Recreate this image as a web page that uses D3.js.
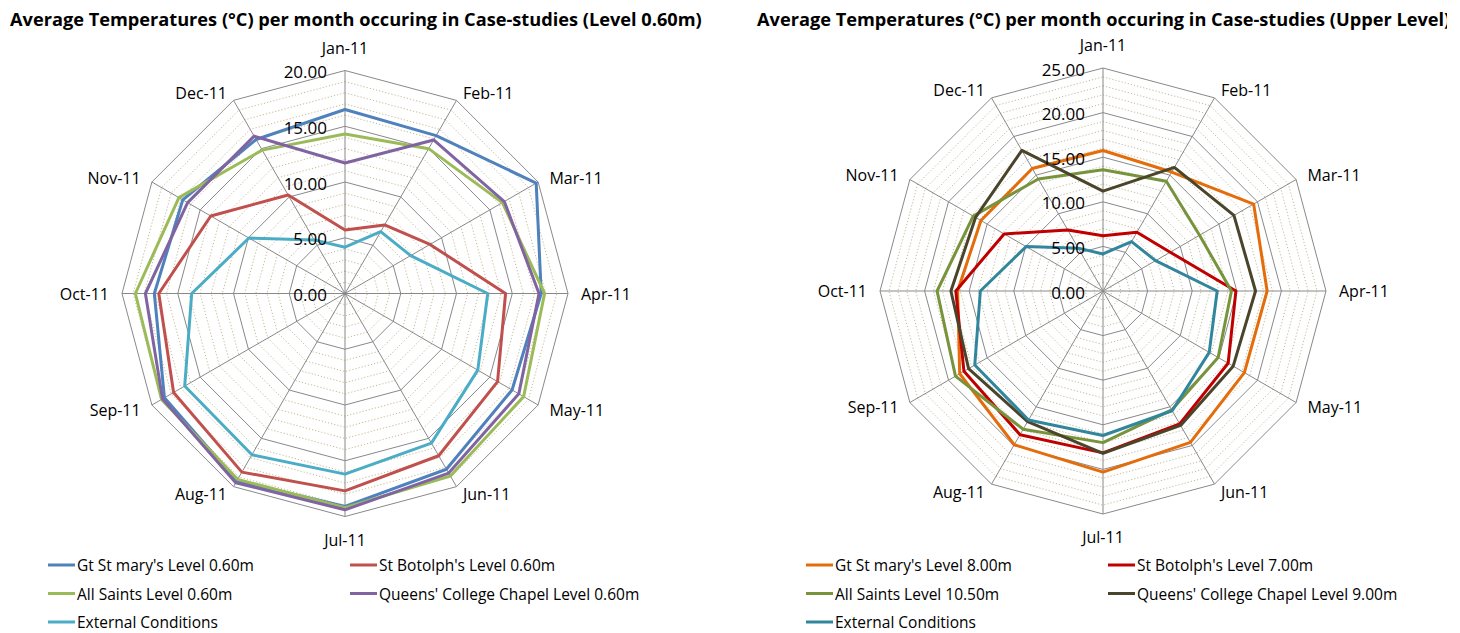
<!DOCTYPE html>
<html>
<head>
<meta charset="utf-8">
<script src="https://cdn.jsdelivr.net/npm/d3@7"></script>
<style>
  body { margin: 0; background: #fff; }
  text { font-family: 'Open Sans', sans-serif; fill: #000; }
</style>
</head>
<body>
<svg id="chart" width="1460" height="633"></svg>
<script>
const months = ['Jan-11', 'Feb-11', 'Mar-11', 'Apr-11', 'May-11', 'Jun-11',
  'Jul-11', 'Aug-11', 'Sep-11', 'Oct-11', 'Nov-11', 'Dec-11'];

// level 0.60m, deg C per month
const gtStMaryLow = [16.5, 16.35, 19.8, 17.6, 17.3, 18.2, 19.1, 19.4, 18.7, 17.1, 16.8, 15.95];
const stBotolphLow = [5.7, 7.1, 8.8, 14.4, 15.8, 16.8, 17.7, 18.5, 17.75, 16.7, 13.9, 10.2];
const allSaintsLow = [14.3, 15.0, 16.3, 17.9, 18.5, 18.9, 19.2, 19.25, 19.0, 18.8, 17.2, 14.85];
const queensLow = [11.7, 15.9, 16.5, 17.4, 18.0, 18.6, 19.4, 19.6, 18.9, 17.9, 16.3, 16.3];

// upper levels
const gtStMaryUp = [15.75, 15.4, 19.5, 18.4, 18.3, 19.6, 20.3, 19.9, 18.55, 16.3, 15.8, 15.85];
const stBotolphUp = [6.2, 7.6, 8.7, 14.9, 16.2, 17.2, 18.15, 18.6, 18.0, 16.5, 12.8, 7.9];
const allSaintsUp = [13.6, 14.2, 12.5, 14.4, 14.9, 15.4, 17.0, 17.9, 19.1, 18.6, 16.8, 14.5];
const queensUp = [11.2, 16.0, 16.95, 17.1, 16.85, 17.4, 18.2, 16.9, 17.4, 17.05, 16.5, 18.2];

// same outside data in both charts
const external = [4.15, 6.4, 6.8, 12.8, 13.75, 15.5, 16.2, 16.7, 16.6, 13.75, 9.95, 5.55];

const lowNames = ["Gt St mary's Level 0.60m", "St Botolph's Level 0.60m", 'All Saints Level 0.60m',
  "Queens' College Chapel Level 0.60m", 'External Conditions'];
const upNames = ["Gt St mary's Level 8.00m", "St Botolph's Level 7.00m", 'All Saints Level 10.50m',
  "Queens' College Chapel Level 9.00m", 'External Conditions'];

const lowColors = ['#4F81BD', '#C0504D', '#9BBB59', '#8064A2', '#4BACC6'];
const upColors = ['#E46C0A', '#C00000', '#77933C', '#4A452A', '#31859C'];

const svg = d3.select('#chart');

svg.append('clipPath').attr('id', 'rightClip')
  .append('rect').attr('x', 730).attr('y', 0).attr('width', 717).attr('height', 633);

function drawRadar(cfg) {
  const outer = svg.append('g');
  if (cfg.clip) outer.attr('clip-path', 'url(#rightClip)');

  outer.append('text')
    .attr('x', cfg.titleX)
    .attr('y', 26)
    .style('font-size', '18.2px')
    .style('font-weight', 'bold')
    .text(cfg.title);

  const g = outer.append('g').attr('transform', `translate(${cfg.cx},${cfg.cy})`);
  const r = d3.scaleLinear().domain([0, cfg.max]).range([0, 223]);
  const angle = d3.scaleLinear().domain([0, months.length]).range([0, 2 * Math.PI]);

  const ring = d3.lineRadial()
    .angle((d, i) => angle(i))
    .radius(d => r(d))
    .curve(d3.curveLinearClosed);

  // minor rings first, major on top
  const levels = d3.range(1, cfg.max + 1);
  g.selectAll('.minor')
    .data(levels.filter(v => v % 5 !== 0))
    .join('path')
    .attr('d', v => ring(months.map(() => v)))
    .attr('fill', 'none')
    .attr('stroke', '#C4BA94')
    .attr('stroke-width', 1)
    .attr('stroke-dasharray', '1.2,2');

  g.selectAll('.major')
    .data(levels.filter(v => v % 5 === 0))
    .join('path')
    .attr('d', v => ring(months.map(() => v)))
    .attr('fill', 'none')
    .attr('stroke', '#898989')
    .attr('stroke-width', 1);

  g.selectAll('.spoke')
    .data(months)
    .join('line')
    .attr('x1', 0).attr('y1', 0)
    .attr('x2', (d, i) => r(cfg.max) * Math.sin(angle(i)))
    .attr('y2', (d, i) => -r(cfg.max) * Math.cos(angle(i)))
    .attr('stroke', '#898989')
    .attr('stroke-width', 1);

  // series
  cfg.series.forEach((s, k) => {
    g.append('path')
      .attr('d', ring(s))
      .attr('fill', 'none')
      .attr('stroke', cfg.colors[k])
      .attr('stroke-width', 3)
      .attr('stroke-linejoin', 'round');
  });

  // value labels on the Jan spoke
  g.selectAll('.tick')
    .data(d3.range(0, cfg.max + 1, 5))
    .join('text')
    .attr('x', -18)
    .attr('y', v => -r(v) + 1)
    .attr('text-anchor', 'end')
    .attr('dominant-baseline', 'central')
    .style('font-size', '17px')
    .text(d3.format('.2f'));

  // month labels
  g.selectAll('.month')
    .data(months)
    .join('text')
    .each(function (d, i) {
      const s = Math.sin(angle(i)), c = Math.cos(angle(i));
      const vx = r(cfg.max) * s, vy = -r(cfg.max) * c;
      let x, y, anchor;
      if (Math.abs(s) < 0.01) {
        x = vx; y = vy - c * 23; anchor = 'middle';
      } else {
        x = vx + 13 * s; y = vy - 9 * c; anchor = s > 0 ? 'start' : 'end';
      }
      d3.select(this)
        .attr('x', x).attr('y', y)
        .attr('text-anchor', anchor)
        .attr('dominant-baseline', 'central')
        .style('font-size', '16px')
        .text(d);
    });

  // legend
  const leg = outer.append('g');
  cfg.names.forEach((name, k) => {
    const lx = cfg.legendX[k % 2];
    const ly = 565 + Math.floor(k / 2) * 28.5;
    leg.append('line')
      .attr('x1', lx).attr('x2', lx + 27)
      .attr('y1', ly).attr('y2', ly)
      .attr('stroke', cfg.colors[k])
      .attr('stroke-width', 3);
    leg.append('text')
      .attr('x', lx + 29)
      .attr('y', ly)
      .attr('dominant-baseline', 'central')
      .style('font-size', '15.5px')
      .text(name);
  });
}

drawRadar({
  title: 'Average Temperatures (°C) per month occuring in Case-studies (Level 0.60m)',
  titleX: 10,
  cx: 345, cy: 293.5, max: 20,
  series: [gtStMaryLow, stBotolphLow, allSaintsLow, queensLow, external],
  names: lowNames, colors: lowColors,
  legendX: [48, 350]
});

drawRadar({
  title: 'Average Temperatures (°C) per month occuring in Case-studies (Upper Level)',
  titleX: 757,
  cx: 1103, cy: 291, max: 25,
  series: [gtStMaryUp, stBotolphUp, allSaintsUp, queensUp, external],
  names: upNames, colors: upColors,
  legendX: [806, 1108],
  clip: true
});
</script>
</body>
</html>
